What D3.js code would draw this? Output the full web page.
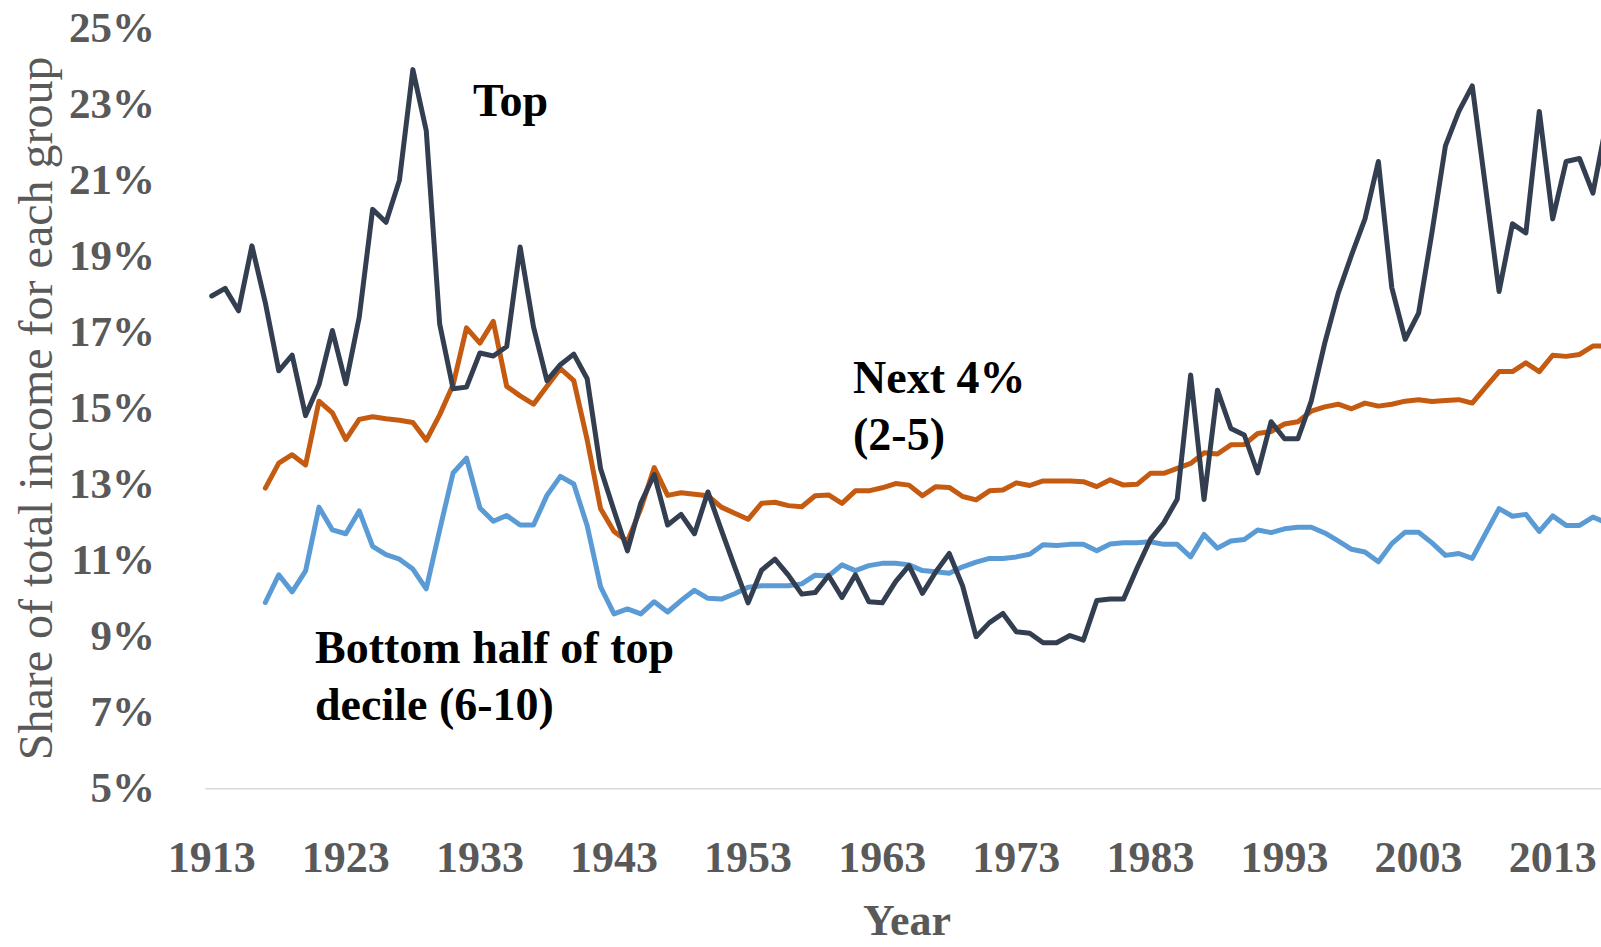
<!DOCTYPE html>
<html lang="en">
<head>
    <meta charset="UTF-8">
    <title>Income shares by group</title>
    <script src="https://d3js.org/d3.v7.min.js"></script>
    <style>
        body { margin: 0; background: #fff; }
        svg { display: block; font-family: "Liberation Serif", "Times New Roman", serif; }
    </style>
</head>
<body>
    <script>
        var w = 1601;
        var h = 947;

        // years on the category axis, and the labelled ones
        var years = d3.range(1913, 2018);
        var yearLabels = [1913, 1923, 1933, 1943, 1953, 1963, 1973, 1983, 1993, 2003, 2013];
        var pctTicks = [5, 7, 9, 11, 13, 15, 17, 19, 21, 23, 25];

        // share of total income (%), one value per year from 1913
        var topShare = [
            17.96, 18.16, 17.57, 19.28, 17.78, 15.99, 16.4, 14.81, 15.62, 17.05,
            15.65, 17.4, 20.24, 19.9, 21.01, 23.92, 22.31, 17.22, 15.52, 15.56,
            16.46, 16.38, 16.63, 19.25, 17.14, 15.73, 16.15, 16.43, 15.78, 13.41,
            12.31, 11.25, 12.51, 13.26, 11.93, 12.21, 11.7, 12.8, 11.8, 10.83,
            9.88, 10.74, 11.03, 10.61, 10.11, 10.15, 10.6, 10.02, 10.62, 9.91,
            9.88, 10.44, 10.86, 10.13, 10.7, 11.18, 10.32, 8.99, 9.36, 9.6,
            9.12, 9.08, 8.83, 8.83, 9.02, 8.9, 9.94, 9.98, 9.98, 10.79,
            11.55, 11.99, 12.61, 15.88, 12.6, 15.48, 14.47, 14.3, 13.3, 14.65,
            14.2, 14.2, 15.2, 16.72, 18.03, 19.04, 19.99, 21.5, 18.18, 16.82,
            17.51, 19.64, 21.91, 22.82, 23.49, 20.8, 18.08, 19.86, 19.62, 22.82,
            19.99, 21.5, 21.58, 20.67, 22.5
        ];
        var next4Share = [
            null, null, null, null, 12.9, 13.56, 13.78, 13.51, 15.19, 14.88,
            14.18, 14.71, 14.78, 14.73, 14.69, 14.63, 14.16, 14.83, 15.62, 17.12,
            16.72, 17.29, 15.58, 15.33, 15.11, 15.58, 16.05, 15.73, 14.17, 12.36,
            11.76, 11.5, 12.36, 13.44, 12.71, 12.78, 12.74, 12.7, 12.4, 12.24,
            12.08, 12.5, 12.53, 12.44, 12.41, 12.7, 12.72, 12.5, 12.83, 12.83,
            12.91, 13.02, 12.98, 12.7, 12.94, 12.92, 12.68, 12.59, 12.83, 12.85,
            13.04, 12.97, 13.09, 13.09, 13.09, 13.07, 12.94, 13.12, 12.98, 13.0,
            13.29, 13.29, 13.42, 13.55, 13.83, 13.8, 14.04, 14.05, 14.34, 14.39,
            14.59, 14.65, 14.93, 15.04, 15.11, 14.99, 15.14, 15.06, 15.11, 15.19,
            15.23, 15.18, 15.21, 15.23, 15.14, 15.56, 15.97, 15.97, 16.2, 15.97,
            16.4, 16.37, 16.42, 16.64, 16.64
        ];
        var bottomHalfShare = [
            null, null, null, null, 9.89, 10.62, 10.17, 10.72, 12.4, 11.8,
            11.7, 12.3, 11.37, 11.15, 11.03, 10.77, 10.25, 11.8, 13.3, 13.69,
            12.38, 12.03, 12.18, 11.93, 11.93, 12.71, 13.21, 13.01, 11.91, 10.3,
            9.59, 9.72, 9.59, 9.91, 9.64, 9.94, 10.21, 10.0, 9.98, 10.12,
            10.29, 10.33, 10.33, 10.33, 10.38, 10.61, 10.59, 10.88, 10.73, 10.86,
            10.92, 10.92, 10.88, 10.73, 10.7, 10.66, 10.83, 10.95, 11.05, 11.05,
            11.09, 11.16, 11.41, 11.39, 11.42, 11.42, 11.25, 11.43, 11.46, 11.46,
            11.49, 11.42, 11.42, 11.09, 11.68, 11.32, 11.51, 11.55, 11.8, 11.73,
            11.83, 11.87, 11.87, 11.72, 11.51, 11.29, 11.22, 10.96, 11.44, 11.74,
            11.74, 11.46, 11.13, 11.18, 11.05, 11.71, 12.36, 12.16, 12.21, 11.76,
            12.17, 11.92, 11.92, 12.14, 11.99
        ];

        var series = [
            { values: bottomHalfShare, color: "#5B9BD5" },
            { values: next4Share, color: "#C55A11" },
            { values: topShare, color: "#333F50" }
        ];

        var step = 13.41;
        var xScale = d3.scaleBand()
                .domain(years)
                .range([205, 205 + years.length * step])
                .padding(0);

        var yScale = d3.scaleLinear()
                .domain([5, 25])
                .range([788.2, 28.6]);

        var svg = d3.select("body")
                .append("svg")
                .attr("width", w)
                .attr("height", h);

        // x axis (category axis, labels every 10 years)
        var xAxis = svg.append("g")
                .attr("transform", "translate(0," + yScale(5) + ")")
                .call(d3.axisBottom(xScale)
                    .tickValues(yearLabels)
                    .tickSize(0)
                    .tickSizeOuter(0));
        xAxis.select(".domain")
                .attr("stroke", "#D9D9D9")
                .attr("stroke-width", 1.5);
        xAxis.selectAll("text")
                .attr("y", 84)
                .attr("dy", 0)
                .attr("fill", "#595959")
                .attr("font-family", "Liberation Serif")
                .attr("font-weight", "bold")
                .attr("font-size", "44px");

        // y axis, labels only
        var yAxis = svg.append("g")
                .attr("transform", "translate(155,0)")
                .call(d3.axisLeft(yScale)
                    .tickValues(pctTicks)
                    .tickSize(0)
                    .tickPadding(0)
                    .tickFormat(function(d) { return d + "%"; }));
        yAxis.select(".domain").remove();
        yAxis.selectAll("text")
                .attr("dy", 13)
                .attr("fill", "#595959")
                .attr("font-family", "Liberation Serif")
                .attr("font-weight", "bold")
                .attr("font-size", "43px");

        // lines
        var line = d3.line()
                .defined(function(d) { return d[1] != null; })
                .x(function(d) { return xScale(d[0]) + xScale.bandwidth() / 2; })
                .y(function(d) { return yScale(d[1]); });

        svg.selectAll("path.series")
            .data(series)
            .enter()
            .append("path")
            .attr("class", "series")
            .attr("d", function(s) {
                return line(years.map(function(yr, i) { return [yr, s.values[i]]; }));
            })
            .attr("fill", "none")
            .attr("stroke", function(s) { return s.color; })
            .attr("stroke-width", 5)
            .attr("stroke-linejoin", "round")
            .attr("stroke-linecap", "round");

        // axis titles
        svg.append("text")
            .attr("x", 907)
            .attr("y", 935)
            .attr("text-anchor", "middle")
            .attr("fill", "#595959")
            .attr("font-weight", "bold")
            .attr("font-size", "44px")
            .text("Year");

        svg.append("text")
            .attr("transform", "translate(52," + ((yScale(5) + yScale(25)) / 2) + ") rotate(-90)")
            .attr("text-anchor", "middle")
            .attr("fill", "#595959")
            .attr("font-size", "48px")
            .text("Share of total income for each group");

        // series labels
        var notes = [
            { lines: ["Top"], x: 473, y: 116 },
            { lines: ["Next 4%", "(2-5)"], x: 853, y: 393 },
            { lines: ["Bottom half of top", "decile (6-10)"], x: 315, y: 663 }
        ];
        notes.forEach(function(n) {
            n.lines.forEach(function(t, i) {
                svg.append("text")
                    .attr("x", n.x)
                    .attr("y", n.y + i * 57)
                    .attr("fill", "#000")
                    .attr("font-weight", "bold")
                    .attr("font-size", "46px")
                    .text(t);
            });
        });
    </script>
</body>
</html>
